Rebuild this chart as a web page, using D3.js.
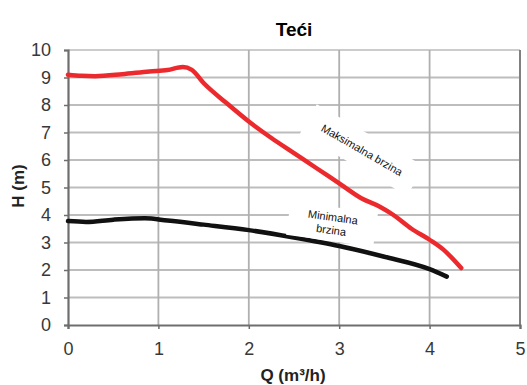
<!DOCTYPE html>
<html>
<head>
<meta charset="utf-8">
<script src="https://cdn.jsdelivr.net/npm/d3@7"></script>
<style>
  body { margin: 0; background: #fff; }
  text { font-family: "Liberation Sans", Arial, sans-serif; }
</style>
</head>
<body>
<div id="chart"></div>
<script>
const xTicks = [0, 1, 2, 3, 4, 5];
const yTicks = [0, 1, 2, 3, 4, 5, 6, 7, 8, 9, 10];

// maksimalna brzina (red)
const maxQ = [0, 0.15, 0.3, 0.6, 0.9, 1.1, 1.27, 1.37, 1.5, 1.75, 2.0, 2.25, 2.5, 2.75, 3.0, 3.25, 3.45, 3.6, 3.8, 4.0, 4.15, 4.35];
const maxH = [9.1, 9.06, 9.05, 9.12, 9.22, 9.27, 9.38, 9.28, 8.8, 8.08, 7.4, 6.8, 6.25, 5.7, 5.15, 4.6, 4.3, 4.0, 3.5, 3.1, 2.75, 2.07];

// minimalna brzina (black)
const minQ = [0, 0.2, 0.5, 0.85, 1.1, 1.5, 2.0, 2.5, 3.0, 3.5, 4.0, 4.19];
const minH = [3.78, 3.75, 3.83, 3.88, 3.8, 3.65, 3.45, 3.18, 2.87, 2.48, 2.03, 1.76];

const W = 527, H = 385;
const margin = {top: 50, right: 7, bottom: 60, left: 68};
const width = W - margin.left - margin.right,
      height = H - margin.top - margin.bottom;

const svg = d3.select("#chart").append("svg")
    .attr("width", W)
    .attr("height", H);

const g = svg.append("g")
    .attr("transform", `translate(${margin.left},${margin.top})`);

const x = d3.scaleLinear().domain([0, 5]).range([0, width]);
const y = d3.scaleLinear().domain([0, 10]).range([height, 0]);

// grid
g.append("g")
  .selectAll("line")
  .data(yTicks.slice(1))
  .join("line")
    .attr("x1", 0).attr("x2", width)
    .attr("y1", d => y(d)).attr("y2", d => y(d))
    .attr("stroke", d => d === 10 ? "#999" : "#bdbdbd")
    .attr("stroke-width", d => d === 10 ? 1.2 : 1.8);

g.append("g")
  .selectAll("line")
  .data(xTicks.slice(1))
  .join("line")
    .attr("y1", 0).attr("y2", height)
    .attr("x1", d => x(d)).attr("x2", d => x(d))
    .attr("stroke", d => d === 5 ? "#808080" : "#b0b0b0")
    .attr("stroke-width", d => d === 5 ? 2 : 1.8);

// axes
const xAxis = g.append("g")
  .attr("transform", `translate(0,${height})`)
  .call(d3.axisBottom(x).tickValues(xTicks).tickSize(4).tickFormat(d3.format("d")));
const yAxis = g.append("g")
  .call(d3.axisLeft(y).tickValues(yTicks).tickSize(4).tickFormat(d3.format("d")));

[xAxis, yAxis].forEach(a => {
  a.select(".domain").attr("stroke", "#6e6e6e").attr("stroke-width", 2.2);
  a.selectAll(".tick line").attr("stroke", "#6e6e6e").attr("stroke-width", 1.5);
  a.selectAll(".tick text")
    .attr("fill", "#383838")
    .style("font-size", "18px")
    .style("font-family", "Liberation Sans, Arial, sans-serif");
});
xAxis.selectAll(".tick text").attr("dy", "0").attr("y", 30);
yAxis.selectAll(".tick text").attr("x", -17);

// curves
const line = d3.line()
  .x(d => x(d[0]))
  .y(d => y(d[1]))
  .curve(d3.curveMonotoneX);

g.append("path")
  .datum(minQ.map((q, i) => [q, minH[i]]))
  .attr("d", line)
  .attr("fill", "none")
  .attr("stroke", "#111")
  .attr("stroke-width", 4.5)
  .attr("stroke-linecap", "round");

g.append("path")
  .datum(maxQ.map((q, i) => [q, maxH[i]]))
  .attr("d", line)
  .attr("fill", "none")
  .attr("stroke", "#ec2a2d")
  .attr("stroke-width", 4.5)
  .attr("stroke-linecap", "round");

// labels
const maxLabel = svg.append("g").attr("transform", "translate(362,150) rotate(30)");
maxLabel.append("rect")
  .attr("x", -62).attr("y", -17).attr("width", 124).attr("height", 34)
  .attr("fill", "#fff");
maxLabel.append("text")
  .attr("text-anchor", "middle").attr("dy", "0.35em")
  .style("font-size", "11px").attr("fill", "#111")
  .text("Maksimalna brzina");

const minLabel = svg.append("g").attr("transform", "translate(332,224) rotate(8)");
minLabel.append("rect")
  .attr("x", -44).attr("y", -17).attr("width", 88).attr("height", 34)
  .attr("fill", "#fff");
minLabel.append("text")
  .attr("text-anchor", "middle").attr("y", -3)
  .style("font-size", "11px").attr("fill", "#111")
  .text("Minimalna");
minLabel.append("text")
  .attr("text-anchor", "middle").attr("y", 10)
  .style("font-size", "11px").attr("fill", "#111")
  .text("brzina");

// title and axis titles
svg.append("text")
  .attr("x", 294).attr("y", 36)
  .attr("text-anchor", "middle")
  .style("font-size", "19px").style("font-weight", "bold")
  .text("Teći");

svg.append("text")
  .attr("x", 293).attr("y", 381)
  .attr("text-anchor", "middle")
  .style("font-size", "17px").style("font-weight", "bold")
  .attr("fill", "#222")
  .text("Q (m³/h)");

svg.append("text")
  .attr("transform", "translate(24,186) rotate(-90)")
  .attr("text-anchor", "middle")
  .style("font-size", "17px").style("font-weight", "bold")
  .attr("fill", "#222")
  .text("H (m)");
</script>
</body>
</html>
